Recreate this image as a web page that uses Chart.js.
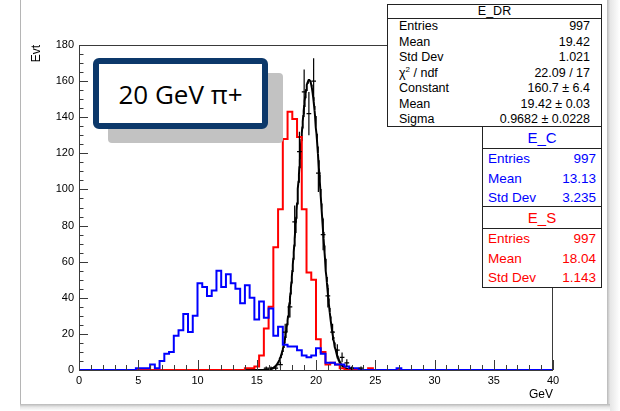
<!DOCTYPE html>
<html>
<head>
<meta charset="utf-8">
<script src="https://cdn.jsdelivr.net/npm/chart.js@4.4.1/dist/chart.umd.min.js"></script>
<style>
body { margin: 0; background: #fff; }
#wrap { position: relative; width: 620px; height: 411px; overflow: hidden; font-family: "Liberation Sans", Arial, Helvetica, sans-serif; }
#chart { position: absolute; left: 0; top: 0; }
.edgeL { position: absolute; left: 20px; top: 0; width: 1px; height: 405px; background: #b5b5b5; }
.edgeR { position: absolute; left: 607px; top: 0; width: 13px; height: 411px; background: linear-gradient(to right, #b8b8b8, #e6e6e6 3px, #fff); }
.edgeB { position: absolute; left: 20px; top: 404px; width: 590px; height: 7px; background: linear-gradient(to bottom, #b8b8b8, #e6e6e6 3px, #fff); }
.shadow { position: absolute; left: 108px; top: 73px; width: 175px; height: 70px; background: #c2c2c2; border-radius: 4px; }
.label { position: absolute; left: 93px; top: 58px; width: 175px; height: 71px; box-sizing: border-box; border: 6px solid #0c386a; border-radius: 6px; background: #fff;
  font-family: "Open Sans", sans-serif; font-size: 26px; display: flex; align-items: center; justify-content: center; color: #000; }
.stats { position: absolute; box-sizing: border-box; border: 1px solid #222; background: #fff; }
.stats .head { text-align: center; border-bottom: 1px solid #222; }
.stats .row { display: flex; justify-content: space-between; }
#sDR { left: 387px; top: 4px; width: 215px; height: 123px; font-size: 12.5px; color: #000; }
#sDR .head { height: 13px; line-height: 13px; }
#sDR .row { height: 15.5px; line-height: 15.5px; padding: 0 11px; }
#sC, #sS { left: 482px; width: 120px; height: 82px; font-size: 13.5px; }
#sC { top: 126px; color: #00f; }
#sS { top: 206px; color: #f00; }
#sC .head, #sS .head { height: 21px; line-height: 21px; font-size: 15px; }
#sC .row, #sS .row { height: 19.7px; line-height: 19.7px; padding: 0 5px; }
.ytitle { position: absolute; left: 30px; top: 85px; width: 40px; text-align: right; font-size: 12px; line-height: 13px; transform-origin: top left; transform: rotate(-90deg); }
.xtitle { position: absolute; right: 67px; top: 387px; font-size: 12px; line-height: 14px; }
</style>
</head>
<body>
<div id="wrap">
  <canvas id="chart" width="620" height="411"></canvas>
  <div class="edgeL"></div>
  <div class="edgeR"></div>
  <div class="edgeB"></div>
  <div class="shadow"></div>
  <div class="label">20 GeV π+</div>
  <div class="ytitle">Evt</div>
  <div class="xtitle">GeV</div>
  <div class="stats" id="sDR">
    <div class="head">E_DR</div>
    <div class="row"><span>Entries</span><span>997</span></div>
    <div class="row"><span>Mean</span><span>19.42</span></div>
    <div class="row"><span>Std Dev</span><span>1.021</span></div>
    <div class="row"><span>χ<sup style="font-size:8px;line-height:0">2</sup> / ndf</span><span>22.09 / 17</span></div>
    <div class="row"><span>Constant</span><span>160.7 ± 6.4</span></div>
    <div class="row"><span>Mean</span><span>19.42 ± 0.03</span></div>
    <div class="row"><span>Sigma</span><span>0.9682 ± 0.0228</span></div>
  </div>
  <div class="stats" id="sC">
    <div class="head">E_C</div>
    <div class="row"><span>Entries</span><span>997</span></div>
    <div class="row"><span>Mean</span><span>13.13</span></div>
    <div class="row"><span>Std Dev</span><span>3.235</span></div>
  </div>
  <div class="stats" id="sS">
    <div class="head">E_S</div>
    <div class="row"><span>Entries</span><span>997</span></div>
    <div class="row"><span>Mean</span><span>18.04</span></div>
    <div class="row"><span>Std Dev</span><span>1.143</span></div>
  </div>
</div>
<script>
// binning (GeV)
const xMin = 0, xMax = 40, binWidth = 0.4;
const yMin = 0, yMax = 180;
const xTickStep = 5, yTickStep = 20;

// E_C (blue), counts per bin starting at 4.8 GeV
const cStart = 4.8;
const cCounts = [1, 1, 1, 3, 1, 5, 9, 10, 19, 22, 31, 21, 30, 48, 46, 41, 44, 55, 46, 53, 48, 45, 37, 47, 40,
                 28, 38, 29, 34, 19, 24, 14, 13, 13, 11, 8, 7, 8, 12, 9, 4, 4, 3, 3, 2, 1, 1,
                 0, 0, 0, 0, 0, 0, 0, 0, 1];

// E_S (red), counts per bin starting at 14.0 GeV
const sStart = 14.0;
const sCounts = [1, 1, 2, 8, 23, 35, 68, 89, 128, 143, 139, 129, 89, 54, 50, 17, 10, 3, 4, 3, 1,
                 0, 0, 0, 0, 0, 1];

// E_DR (black points), counts per bin starting at 15.6 GeV
const drStart = 15.6;
const drCounts = [1, 1, 1, 3, 21, 35, 82, 121, 154, 142, 160, 109, 75, 41, 21, 11, 7, 4, 1, 0, 1];

// gaussian fit to E_DR
const fitConst = 160.7, fitMean = 19.42, fitSigma = 0.9682;

function outline(start, counts) {
  let pts = [];
  let nBins = Math.round((xMax - xMin) / binWidth);
  let first = Math.round((start - xMin) / binWidth);
  for (let i = 0; i < nBins; i++) {
    let v = counts[i - first] || 0;
    let lo = xMin + i * binWidth;
    pts.push({ x: lo, y: v }, { x: lo + binWidth, y: v });
  }
  return pts;
}

function errorBars(start, counts) {
  let pts = [];
  counts.forEach(function (n, i) {
    if (!n) return;
    let lo = start + i * binWidth, c = lo + binWidth / 2, e = Math.sqrt(n);
    pts.push({ x: lo, y: n }, { x: lo + binWidth, y: n }, { x: c, y: null });
    pts.push({ x: c, y: n - e }, { x: c, y: n + e }, { x: c, y: null });
  });
  return pts;
}

let fitPts = [];
for (let x = xMin; x <= xMax + 1e-9; x += 0.04) {
  let t = (x - fitMean) / fitSigma;
  fitPts.push({ x: x, y: fitConst * Math.exp(-0.5 * t * t) });
}

// ROOT style frame with inward ticks
const rootFrame = {
  id: 'rootFrame',
  afterDatasetsDraw(chart) {
    const { ctx, chartArea: a, scales: { x, y } } = chart;
    ctx.save();
    ctx.strokeStyle = '#3a3a3a';
    ctx.lineWidth = 1;
    ctx.strokeRect(a.left + 0.5, a.top + 0.5, a.right - a.left - 1, a.bottom - a.top);
    ctx.beginPath();
    for (let v = xMin; v <= xMax + 1e-9; v += 1) {
      let px = Math.round(x.getPixelForValue(v)) + 0.5;
      let len = (Math.round(v) % xTickStep === 0) ? 10 : 5;
      ctx.moveTo(px, a.bottom);
      ctx.lineTo(px, a.bottom - len);
    }
    for (let v = yMin; v <= yMax + 1e-9; v += 5) {
      let py = Math.round(y.getPixelForValue(v)) + 0.5;
      let len = (Math.round(v) % yTickStep === 0) ? 9 : 4.5;
      ctx.moveTo(a.left, py);
      ctx.lineTo(a.left + len, py);
    }
    ctx.stroke();
    ctx.restore();
  }
};

const tickFont = { family: 'Liberation Sans', size: 11 };

new Chart(document.getElementById('chart'), {
  type: 'line',
  data: {
    datasets: [
      { label: 'E_DR', data: errorBars(drStart, drCounts), borderColor: '#000', borderWidth: 1.2,
        pointRadius: 0, spanGaps: false, order: 0, clip: false },
      { label: 'E_C', data: outline(cStart, cCounts), borderColor: '#0000ff', borderWidth: 2,
        pointRadius: 0, order: 1, clip: false },
      { label: 'E_S', data: outline(sStart, sCounts), borderColor: '#ff0000', borderWidth: 2,
        pointRadius: 0, order: 2, clip: false },
      { label: 'gaus', data: fitPts, borderColor: '#000', borderWidth: 2,
        pointRadius: 0, order: 3, clip: false }
    ]
  },
  options: {
    responsive: false,
    animation: false,
    layout: { padding: { left: 0, top: 45, right: 67, bottom: 0 } },
    plugins: { legend: { display: false }, tooltip: { enabled: false } },
    elements: { line: { tension: 0, fill: false } },
    scales: {
      x: {
        type: 'linear', min: xMin, max: xMax,
        grid: { display: false, drawTicks: false },
        border: { display: false },
        ticks: { stepSize: xTickStep, font: tickFont, color: '#000', padding: 4, maxRotation: 0 },
        afterFit: function (s) { s.height = 41; }
      },
      y: {
        type: 'linear', min: yMin, max: yMax,
        grid: { display: false, drawTicks: false },
        border: { display: false },
        ticks: { stepSize: yTickStep, font: tickFont, color: '#000', padding: 5 },
        afterFit: function (s) { s.width = 79; }
      }
    }
  },
  plugins: [rootFrame]
});
</script>
</body>
</html>
